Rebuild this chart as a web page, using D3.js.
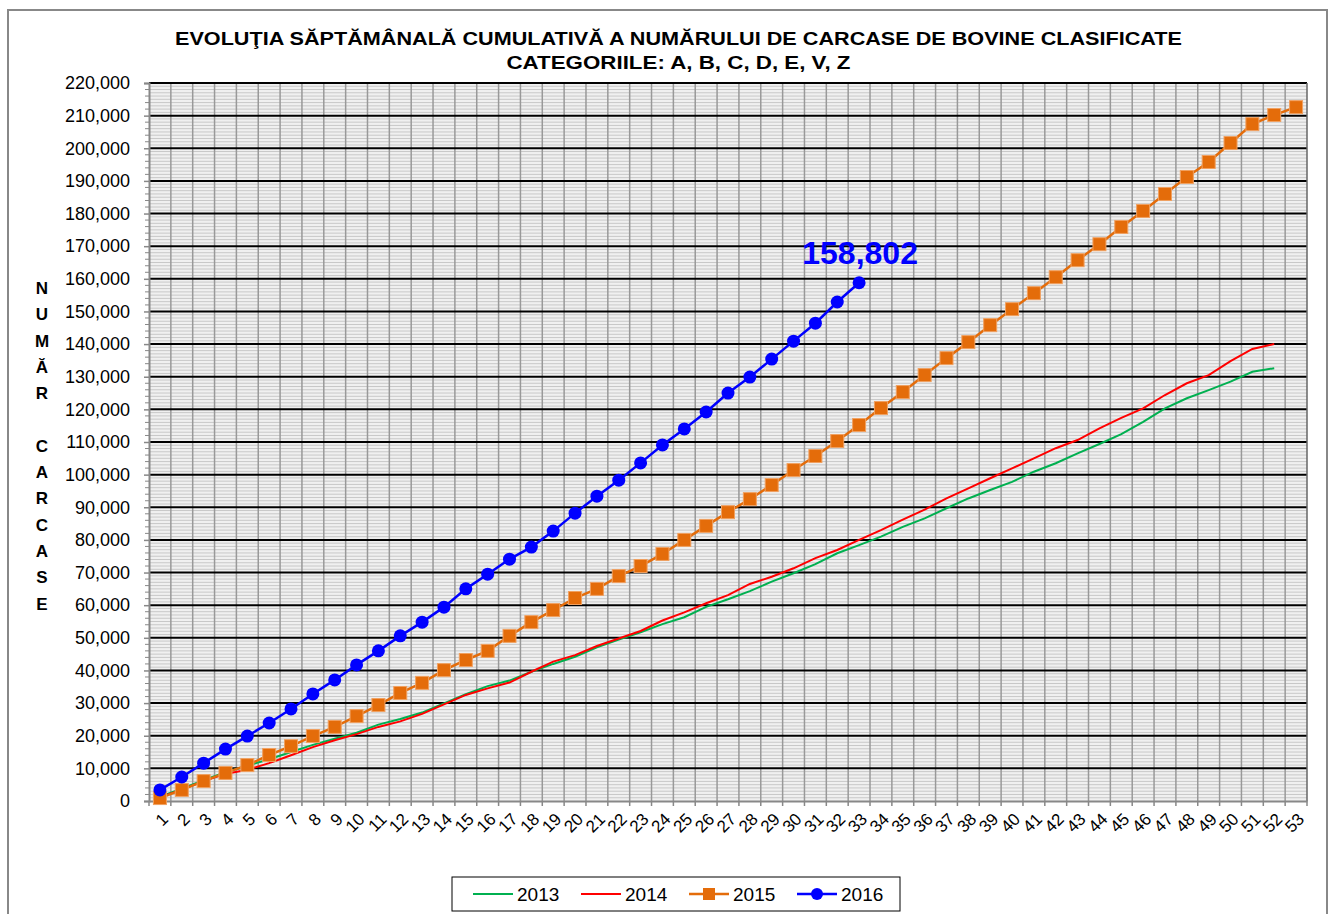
<!DOCTYPE html>
<html>
<head>
<meta charset="utf-8">
<script src="https://cdn.jsdelivr.net/npm/d3@7"></script>
<style>
  body { margin: 0; background: #fff; }
  svg { font-family: Arial, "Liberation Sans", sans-serif; }
</style>
</head>
<body>
<svg width="1334" height="914"></svg>
<script>
// data (cumulative counts per week)
var weeks = d3.range(1, 54).map(String);
var years = ["2013", "2014", "2015", "2016"];
var v2013 = [1300, 3800, 6400, 8800, 10800, 12800, 15000, 17200, 19100, 20900,
  23400, 25100, 27100, 29900, 32700, 35200, 36900, 39600, 42000, 44200,
  47100, 49500, 51700, 54200, 56300, 59500, 61800, 64300, 67200, 69800,
  72600, 75900, 78400, 81000, 84000, 86600, 89700, 92700, 95300, 97800,
  100900, 103500, 106500, 109400, 112400, 116200, 120300, 123400, 125900, 128500,
  131500, 132600];
var v2014 = [1100, 3500, 6100, 8300, 9600, 11600, 14000, 16500, 18600, 20500,
  22700, 24400, 26700, 29600, 32500, 34500, 36300, 39600, 42700, 44700,
  47500, 49800, 52100, 55300, 57800, 60600, 63100, 66500, 68700, 71300,
  74400, 76900, 80000, 83000, 86200, 89300, 92700, 95800, 98900, 101900,
  105000, 108100, 110600, 114200, 117400, 120300, 124400, 128000, 130500, 134800,
  138500, 140000];
var v2015 = [900, 3400, 6100, 8600, 11000, 14100, 16800, 19900, 22700, 26000,
  29400, 33100, 36200, 40100, 43200, 46000, 50600, 54800, 58500, 62200,
  65000, 68900, 72000, 75700, 80000, 84300, 88500, 92500, 96800, 101400,
  105700, 110300, 115200, 120400, 125300, 130500, 135700, 140600, 145800, 150700,
  155600, 160500, 165700, 170600, 175900, 180800, 186000, 191200, 195800, 201600,
  207400, 210200, 212600];
var v2016 = [3400, 7350, 11600, 15900, 19900, 23900, 28200, 32800, 37100, 41700,
  46000, 50600, 54800, 59400, 65000, 69500, 74100, 77800, 82700, 88200,
  93400, 98300, 103600, 109100, 114000, 119200, 125000, 129900, 135400, 140900,
  146400, 152900, 158802];
var yTicks = d3.range(0, 220001, 10000);
var titleLines = ["EVOLUŢIA SĂPTĂMÂNALĂ  CUMULATIVĂ A NUMĂRULUI DE CARCASE DE BOVINE  CLASIFICATE",
  "CATEGORIILE: A, B, C, D, E, V, Z"];
var yLabel = ["N", "U", "M", "Ă", "R", "", "C", "A", "R", "C", "A", "S", "E"];

var series = [
  { name: "2013", values: v2013, color: "#00b050", marker: null },
  { name: "2014", values: v2014, color: "#ff0000", marker: null },
  { name: "2015", values: v2015, color: "#e46c0a", marker: "square" },
  { name: "2016", values: v2016, color: "#0000ff", marker: "circle" }
];

var svg = d3.select("svg");
var plot = { left: 149, right: 1307, top: 83, bottom: 801 };

var x = d3.scaleBand().domain(weeks).range([plot.left, plot.right]).padding(0);
var y = d3.scaleLinear().domain([0, 220000]).range([plot.bottom, plot.top]);
var fmt = d3.format(",");

// outer frame
svg.append("rect")
  .attr("x", 8).attr("y", 10).attr("width", 1319).attr("height", 914)
  .attr("fill", "#fff").attr("stroke", "#888").attr("stroke-width", 2);

// plot background
svg.append("rect")
  .attr("x", plot.left).attr("y", plot.top)
  .attr("width", plot.right - plot.left).attr("height", plot.bottom - plot.top)
  .attr("fill", "#f0f0f0");

// minor horizontal grid
svg.append("g").selectAll("line")
  .data(d3.range(1000, 220000, 1000).filter(function (d) { return d % 10000 != 0; }))
  .enter().append("line")
  .attr("x1", plot.left).attr("x2", plot.right)
  .attr("y1", function (d) { return y(d); }).attr("y2", function (d) { return y(d); })
  .attr("stroke", "#c8c8c8").attr("stroke-width", 1);

// vertical grid at category edges
svg.append("g").selectAll("line")
  .data(weeks.slice(1))
  .enter().append("line")
  .attr("x1", function (d) { return x(d); }).attr("x2", function (d) { return x(d); })
  .attr("y1", plot.top).attr("y2", plot.bottom)
  .attr("stroke", "#999").attr("stroke-width", 1.5);

// major horizontal grid
svg.append("g").selectAll("line")
  .data(yTicks.slice(1))
  .enter().append("line")
  .attr("x1", plot.left).attr("x2", plot.right)
  .attr("y1", function (d) { return y(d); }).attr("y2", function (d) { return y(d); })
  .attr("stroke", "#000").attr("stroke-width", 2);

// plot border right
svg.append("line")
  .attr("x1", plot.right).attr("x2", plot.right)
  .attr("y1", plot.top).attr("y2", plot.bottom)
  .attr("stroke", "#666").attr("stroke-width", 1.5);

// y axis
var yAxis = d3.axisLeft(y).tickValues(yTicks).tickFormat(fmt).tickSize(5).tickPadding(14);
var gy = svg.append("g").attr("transform", "translate(" + plot.left + ",0)").call(yAxis);
gy.select(".domain").attr("stroke", "#888").attr("stroke-width", 2);
gy.selectAll(".tick line").attr("stroke", "#888").attr("stroke-width", 1.5);
gy.selectAll("text").attr("font-size", 18).attr("fill", "#000")
  .attr("font-family", "Arial, 'Liberation Sans', sans-serif");
// minor ticks every 2000
svg.append("g").selectAll("line")
  .data(d3.range(2000, 220000, 2000).filter(function (d) { return d % 10000 != 0; }))
  .enter().append("line")
  .attr("x1", plot.left - 4).attr("x2", plot.left)
  .attr("y1", function (d) { return y(d); }).attr("y2", function (d) { return y(d); })
  .attr("stroke", "#888").attr("stroke-width", 1);

// x axis
var xAxis = d3.axisBottom(x).tickSize(0).tickFormat("");
var gx = svg.append("g").attr("transform", "translate(0," + plot.bottom + ")").call(xAxis);
gx.select(".domain").attr("stroke", "#888").attr("stroke-width", 2);
svg.append("g").selectAll("line")
  .data(weeks.concat(["end"]))
  .enter().append("line")
  .attr("x1", function (d) { return d == "end" ? plot.right : x(d); })
  .attr("x2", function (d) { return d == "end" ? plot.right : x(d); })
  .attr("y1", plot.bottom).attr("y2", plot.bottom + 5)
  .attr("stroke", "#888").attr("stroke-width", 1.5);
svg.append("g").selectAll("text")
  .data(weeks)
  .enter().append("text")
  .attr("transform", function (d) {
    return "translate(" + (x(d) + x.bandwidth() / 2 + 5) + "," + (plot.bottom + 15) + ") rotate(-45)";
  })
  .attr("text-anchor", "end")
  .attr("dy", "0.35em")
  .attr("font-size", 17)
  .text(function (d) { return d; });

// lines
var line = d3.line()
  .x(function (d, i) { return x(weeks[i]) + x.bandwidth() / 2; })
  .y(function (d) { return y(d); });

series.forEach(function (s) {
  svg.append("path")
    .datum(s.values)
    .attr("d", line)
    .attr("fill", "none")
    .attr("stroke", s.color)
    .attr("stroke-width", s.marker ? 2.5 : 2);
  if (s.marker == "square") {
    svg.append("g").selectAll("rect")
      .data(s.values).enter().append("rect")
      .attr("x", function (d, i) { return x(weeks[i]) + x.bandwidth() / 2 - 6.5; })
      .attr("y", function (d) { return y(d) - 6.5; })
      .attr("width", 13).attr("height", 13)
      .attr("fill", s.color).attr("stroke", "#f0a060").attr("stroke-width", 1);
  } else if (s.marker == "circle") {
    svg.append("g").selectAll("circle")
      .data(s.values).enter().append("circle")
      .attr("cx", function (d, i) { return x(weeks[i]) + x.bandwidth() / 2; })
      .attr("cy", function (d) { return y(d); })
      .attr("r", 6.5)
      .attr("fill", s.color);
  }
});

// last value label for 2016
var lastIdx = v2016.length - 1;
svg.append("text")
  .attr("x", x(weeks[lastIdx]) + x.bandwidth() / 2 + 1)
  .attr("y", y(v2016[lastIdx]) - 19)
  .attr("text-anchor", "middle")
  .attr("font-size", 32).attr("font-weight", "bold")
  .attr("fill", "#0000ff")
  .text(fmt(v2016[lastIdx]));

// title
var titleWidths = [1007, 344];
svg.append("g").selectAll("text")
  .data(titleLines).enter().append("text")
  .attr("x", function (d, i) { return 678.5 - titleWidths[i] / 2; })
  .attr("y", function (d, i) { return 45 + i * 24; })
  .attr("textLength", function (d, i) { return titleWidths[i]; })
  .attr("lengthAdjust", "spacingAndGlyphs")
  .attr("font-size", 19).attr("font-weight", "bold")
  .text(function (d) { return d; });

// y axis title, stacked letters
svg.append("g").selectAll("text")
  .data(yLabel).enter().append("text")
  .attr("x", 42)
  .attr("y", function (d, i) { return 294 + i * 26.3; })
  .attr("text-anchor", "middle")
  .attr("font-size", 17).attr("font-weight", "bold")
  .text(function (d) { return d; });

// legend
var legend = svg.append("g");
legend.append("rect")
  .attr("x", 452).attr("y", 877).attr("width", 448).attr("height", 34)
  .attr("fill", "#fff").attr("stroke", "#000").attr("stroke-width", 1);
var legendX = [473, 581, 689, 797];
series.forEach(function (s, i) {
  var g = legend.append("g").attr("transform", "translate(" + legendX[i] + ",894)");
  g.append("line").attr("x1", 0).attr("x2", 40).attr("y1", 0).attr("y2", 0)
    .attr("stroke", s.color).attr("stroke-width", s.marker ? 2.5 : 2);
  if (s.marker == "square") {
    g.append("rect").attr("x", 14).attr("y", -6).attr("width", 12).attr("height", 12).attr("fill", s.color);
  } else if (s.marker == "circle") {
    g.append("circle").attr("cx", 20).attr("cy", 0).attr("r", 6).attr("fill", s.color);
  }
  g.append("text").attr("x", 44).attr("y", 7).attr("font-size", 19).text(s.name);
});
</script>
</body>
</html>
